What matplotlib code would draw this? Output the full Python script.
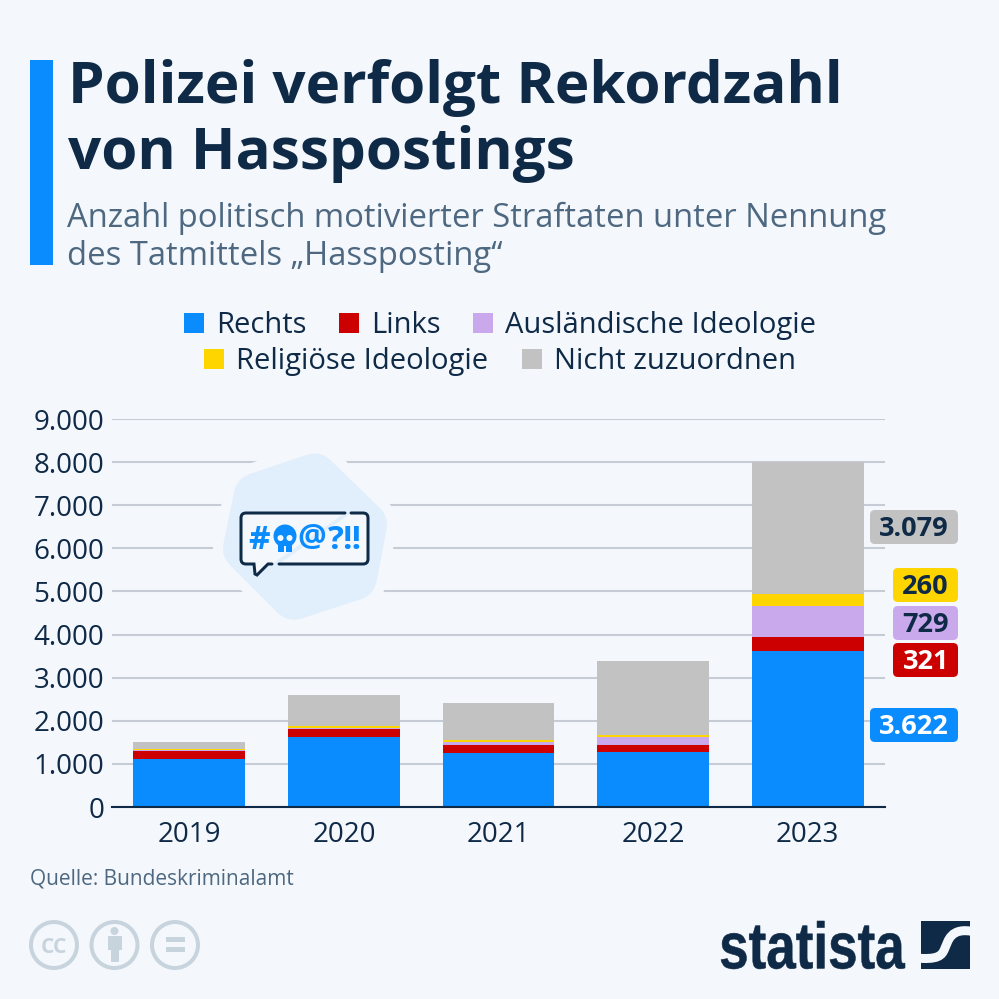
import matplotlib
matplotlib.use('Agg')
import matplotlib.pyplot as plt
import numpy as np
from matplotlib.patches import Circle, FancyBboxPatch, PathPatch, Polygon, Rectangle
from matplotlib.path import Path
from matplotlib.textpath import TextPath
from matplotlib.font_manager import FontProperties
from matplotlib.transforms import Affine2D
from matplotlib.ticker import FuncFormatter

years = ['2019', '2020', '2021', '2022', '2023']
rechts = [1105, 1615, 1250, 1265, 3622]
links = [195, 195, 178, 178, 321]
auslaendisch = [20, 30, 70, 170, 729]
religioes = [20, 40, 55, 63, 260]
nicht_zuzuordnen = [170, 710, 860, 1720, 3079]

series_names = ['Rechts', 'Links', 'Ausländische Ideologie', 'Religiöse Ideologie', 'Nicht zuzuordnen']
series_values = [rechts, links, auslaendisch, religioes, nicht_zuzuordnen]
series_colors = ['#0a8cff', '#cc0000', '#c9a9ec', '#ffd500', '#c2c2c2']

BG = '#f4f7fb'
DARK = '#0f2a47'
MUTED = '#4d6880'
PX = 72 / 100  # points per pixel at dpi 100

plt.rcParams['font.family'] = ['Open Sans', 'DejaVu Sans']

fig = plt.figure(figsize=(9.99, 9.99), dpi=100, facecolor=BG)

# overlay in pixel coordinates for title, legend, icons
bg = fig.add_axes([0, 0, 1, 1], zorder=3)
bg.set_xlim(0, 999)
bg.set_ylim(999, 0)
bg.axis('off')

ax = fig.add_axes([112 / 999, 1 - 807 / 999, 773 / 999, 388 / 999], zorder=1)
ax.set_facecolor('none')
x = np.arange(len(years))
bottom = np.zeros(len(years))
for values, color in zip(series_values, series_colors):
    ax.bar(x, values, width=0.724, bottom=bottom, color=color, zorder=3, linewidth=0)
    bottom += np.array(values)
ax.set_xlim(-0.5, 4.5)
ax.set_ylim(0, 9000)
ax.set_yticks(np.arange(0, 9001, 1000))
ax.yaxis.set_major_formatter(FuncFormatter(lambda v, _: f'{int(v):,}'.replace(',', '.')))
ax.set_xticks(x, years)
ax.tick_params(axis='y', length=0, pad=5.5, labelsize=20, labelcolor=DARK)
ax.tick_params(axis='x', length=0, pad=10, labelsize=20, labelcolor=DARK)
ax.grid(axis='y', color='#c6ccd5', linewidth=1.5, zorder=0)
ax.set_axisbelow(True)
for side in ['top', 'left', 'right']:
    ax.spines[side].set_visible(False)
ax.spines['bottom'].set_color(DARK)
ax.spines['bottom'].set_linewidth(1.5)
ax.spines['bottom'].set_zorder(5)

# header
bg.add_patch(Rectangle((30, 60), 23, 205, color='#0a8cff', linewidth=0))
bg.text(68, 103, 'Polizei verfolgt Rekordzahl', fontsize=42, fontweight='bold', color=DARK, va='baseline')
bg.text(68, 169, 'von Hasspostings', fontsize=42, fontweight='bold', color=DARK, va='baseline')
bg.text(67, 227, 'Anzahl politisch motivierter Straftaten unter Nennung', fontsize=23.6, color=MUTED, va='baseline')
bg.text(67, 265, 'des Tatmittels „Hassposting“', fontsize=23.6, color=MUTED, va='baseline')

# legend, two centred rows
legend_slots = [(184, 333), (339, 333), (473, 333), (204, 369), (522, 369)]
for name, color, (lx, ly) in zip(series_names, series_colors, legend_slots):
    bg.add_patch(Rectangle((lx, ly - 20), 20, 20, color=color, linewidth=0))
    bg.text(lx + 32, ly, name, fontsize=21, color=DARK, va='baseline')

# value labels next to the 2023 bar
label_values = [nicht_zuzuordnen[4], religioes[4], auslaendisch[4], links[4], rechts[4]]
label_colors = [series_colors[4], series_colors[3], series_colors[2], series_colors[1], series_colors[0]]
label_text = [DARK, DARK, DARK, 'white', 'white']
label_tops = [510, 568, 606, 643, 708]
for val, col, tcol, top in zip(label_values, label_colors, label_text, label_tops):
    txt = f'{val:,}'.replace(',', '.')
    left = 870 if val >= 1000 else 893
    bg.add_patch(FancyBboxPatch((left + 5, top + 5), 958 - left - 10, 24,
                                boxstyle='round,pad=5,rounding_size=5', color=col, linewidth=0))
    bg.text(949, top + 26, txt, fontsize=19.5, fontweight='bold', color=tcol, ha='right', va='baseline')

# hexagon blob behind the speech bubble
hex_outer = np.array([(318, 453), (387, 520), (373, 593), (290, 620), (223, 553), (238, 480)])
hex_inner = (hex_outer - [305, 537]) * 0.72 + [305, 537]
bg.add_patch(Polygon(hex_inner, closed=True, facecolor=BG, edgecolor=BG, linewidth=66 * PX, joinstyle='round'))
bg.add_patch(Polygon(hex_inner, closed=True, facecolor='#e1eefc', edgecolor='#e1eefc', linewidth=46 * PX, joinstyle='round'))

# speech bubble outline with its two gaps
bubble = Path(
    [(345, 513), (246, 513), (241, 513), (241, 518), (241, 559), (241, 564), (246, 564), (254, 564),
     (255, 574), (257, 575), (268, 564), (272, 564),
     (279, 564), (363, 564), (368, 564), (368, 559), (368, 518), (368, 513), (363, 513), (351, 513)],
    [Path.MOVETO, Path.LINETO, Path.CURVE3, Path.CURVE3, Path.LINETO, Path.CURVE3, Path.CURVE3, Path.LINETO,
     Path.LINETO, Path.LINETO, Path.LINETO, Path.LINETO,
     Path.MOVETO, Path.LINETO, Path.CURVE3, Path.CURVE3, Path.LINETO, Path.CURVE3, Path.CURVE3, Path.LINETO])
bg.add_patch(PathPatch(bubble, facecolor=BG, edgecolor='none', linewidth=0))
bg.add_patch(PathPatch(bubble, facecolor='none', edgecolor=DARK, linewidth=3 * PX, capstyle='round'))
bg.text(259.5, 549, '#', fontsize=24, fontweight='bold', color='#0a8cff', ha='center', va='baseline')
bg.text(312, 547, '@', fontsize=23, fontweight='bold', color='#0a8cff', ha='center', va='baseline')
bg.text(335.5, 549, '?', fontsize=24, fontweight='bold', color='#0a8cff', ha='center', va='baseline')
bg.text(351.5, 549, '!!', fontsize=24, fontweight='bold', color='#0a8cff', ha='center', va='baseline')
# skull
bg.add_patch(Circle((285, 536), 11.5, color='#0a8cff', linewidth=0))
bg.add_patch(Rectangle((278, 542), 14, 10, color='#0a8cff', linewidth=0))
bg.add_patch(Circle((280.5, 538), 3, color=BG, linewidth=0))
bg.add_patch(Circle((289.5, 538), 3, color=BG, linewidth=0))
bg.add_patch(Rectangle((284.3, 546), 1.4, 6, color=BG, linewidth=0))

# source
bg.text(30, 884, 'Quelle: Bundeskriminalamt', fontsize=15, color=MUTED, va='baseline')

# cc icons
ICON = '#c8d4dd'
for cx in [54, 114.5, 175]:
    bg.add_patch(Circle((cx, 945), 23, facecolor='none', edgecolor=ICON, linewidth=4 * PX))
bg.text(54, 953, 'CC', fontsize=15, fontweight='bold', color=ICON, ha='center', va='baseline')
bg.add_patch(Circle((114.5, 931), 4, color=ICON, linewidth=0))
bg.add_patch(Rectangle((107.5, 936), 14, 14, color=ICON, linewidth=0))
bg.add_patch(Rectangle((110.5, 948), 8, 14, color=ICON, linewidth=0))
bg.add_patch(Rectangle((165.5, 937), 19, 5, color=ICON, linewidth=0))
bg.add_patch(Rectangle((165.5, 947), 19, 5, color=ICON, linewidth=0))

# statista logo, text stretched to the logo box
tp = TextPath((0, 0), 'statista', size=50, prop=FontProperties(family='Liberation Sans', weight='bold'))
box = tp.get_extents()
tr = Affine2D().translate(-box.x0, -box.y0).scale(184 / box.width, -48 / box.height).translate(721, 969)
bg.add_patch(PathPatch(tp.transformed(tr), facecolor=DARK, edgecolor=DARK, linewidth=0.4))
square = Rectangle((921, 921), 49, 48, color=DARK, linewidth=0)
bg.add_patch(square)
swoosh = Path([(975, 932), (950, 926), (948, 942), (945, 948), (942, 956), (938, 960), (915, 958)],
              [Path.MOVETO, Path.CURVE4, Path.CURVE4, Path.CURVE4, Path.CURVE4, Path.CURVE4, Path.CURVE4])
sw = PathPatch(swoosh, facecolor='none', edgecolor=BG, linewidth=9 * PX)
bg.add_patch(sw)
sw.set_clip_path(square)

fig.savefig('out.png', dpi=100, facecolor=BG)
